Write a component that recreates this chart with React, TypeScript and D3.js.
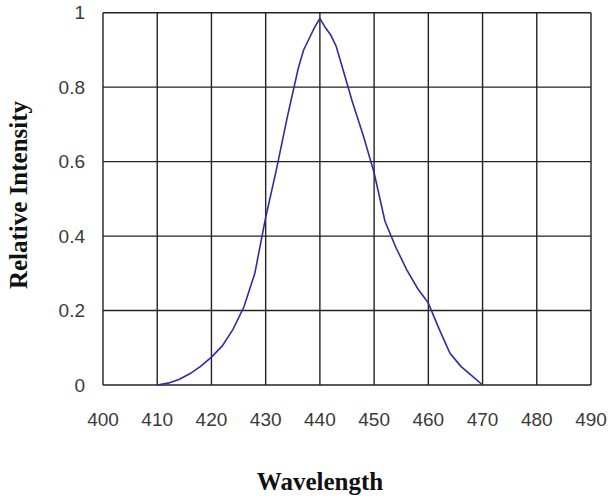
import React, { useEffect, useRef } from 'react';
import * as d3 from 'd3';

// spectrum
const wavelengths = [410, 412, 414, 416, 418, 420, 422, 424, 426, 428, 430, 432, 434, 436, 437, 438, 439, 440, 441, 442, 443, 444, 446, 448, 450, 452, 454, 456, 458, 460, 462, 464, 466, 468, 470];
const intensity = [0, 0.005, 0.015, 0.03, 0.05, 0.075, 0.105, 0.15, 0.21, 0.3, 0.45, 0.58, 0.72, 0.85, 0.9, 0.93, 0.96, 0.985, 0.96, 0.94, 0.91, 0.86, 0.76, 0.67, 0.57, 0.44, 0.37, 0.31, 0.26, 0.22, 0.15, 0.085, 0.05, 0.025, 0];

const xTicks = [400, 410, 420, 430, 440, 450, 460, 470, 480, 490];
const yTicks = [0, 0.2, 0.4, 0.6, 0.8, 1];

const xTitle = 'Wavelength';
const yTitle = 'Relative Intensity';

export default function App() {
  const ref = useRef<SVGSVGElement>(null);

  useEffect(() => {
    const cfg = {
      width: 608,
      height: 500,
      left: 103,
      right: 591,
      top: 12.7,
      bottom: 385,
    };

    const svg = d3.select(ref.current);
    svg.selectAll('*').remove();
    svg.attr('width', cfg.width).attr('height', cfg.height);

    const x = d3.scaleLinear().domain([400, 490]).range([cfg.left, cfg.right]);
    const y = d3.scaleLinear().domain([0, 1]).range([cfg.bottom, cfg.top]);

    const grid = svg.append('g').attr('class', 'grid');
    grid.selectAll('.vline').data(xTicks).join('line')
      .attr('class', 'vline')
      .attr('x1', (d) => x(d)).attr('x2', (d) => x(d))
      .attr('y1', cfg.top).attr('y2', cfg.bottom)
      .attr('stroke', '#222').attr('stroke-width', 1.4);
    grid.selectAll('.hline').data(yTicks).join('line')
      .attr('class', 'hline')
      .attr('x1', cfg.left).attr('x2', cfg.right)
      .attr('y1', (d) => y(d)).attr('y2', (d) => y(d))
      .attr('stroke', '#222').attr('stroke-width', 1.4);

    // tick labels
    svg.append('g').selectAll('text').data(xTicks).join('text')
      .attr('x', (d) => x(d))
      .attr('y', 426)
      .attr('text-anchor', 'middle')
      .style('font-family', 'Liberation Sans, Arial, sans-serif')
      .style('font-size', '19px')
      .attr('fill', '#3a3a3a')
      .text((d) => d);

    svg.append('g').selectAll('text').data(yTicks).join('text')
      .attr('x', 85)
      .attr('y', (d) => y(d))
      .attr('dy', '0.35em')
      .attr('text-anchor', 'end')
      .style('font-family', 'Liberation Sans, Arial, sans-serif')
      .style('font-size', '19px')
      .attr('fill', '#3a3a3a')
      .text((d) => d);

    // the curve
    const pts = wavelengths.map((w, i) => [w, intensity[i]] as [number, number]);
    const line = d3.line<[number, number]>()
      .x((d) => x(d[0]))
      .y((d) => y(d[1]));
    svg.append('path')
      .datum(pts)
      .attr('d', line)
      .attr('fill', 'none')
      .attr('stroke', '#2e2e9e')
      .attr('stroke-width', 1.6);

    // axis titles
    svg.append('text')
      .attr('x', 320)
      .attr('y', 490)
      .attr('text-anchor', 'middle')
      .style('font-family', 'Liberation Serif, Times New Roman, serif')
      .style('font-weight', 'bold')
      .style('font-size', '25px')
      .attr('fill', '#111')
      .text(xTitle);

    svg.append('text')
      .attr('transform', 'translate(27,195) rotate(-90)')
      .attr('text-anchor', 'middle')
      .style('font-family', 'Liberation Serif, Times New Roman, serif')
      .style('font-weight', 'bold')
      .style('font-size', '25px')
      .attr('fill', '#111')
      .text(yTitle);
  }, []);

  return (
    <svg
      ref={ref}
      style={{ position: 'absolute', left: 0, top: 0, background: '#fff' }}
    />
  );
}
